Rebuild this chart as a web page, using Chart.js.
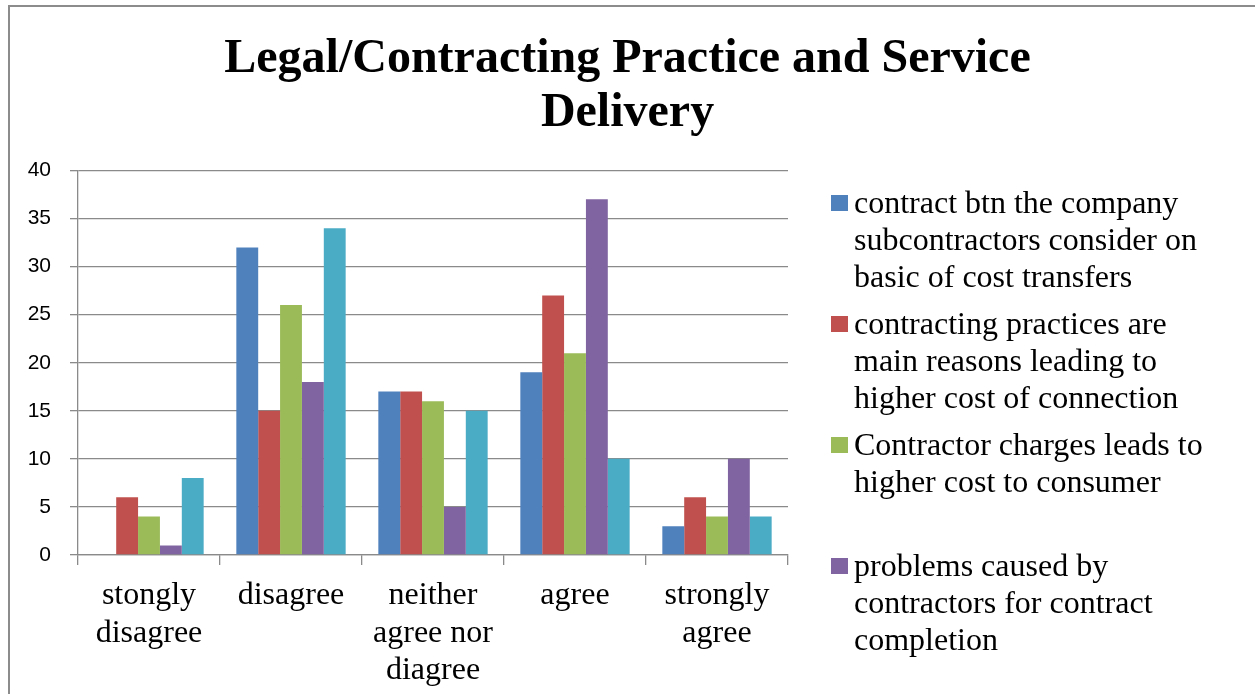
<!DOCTYPE html>
<html>
<head>
<meta charset="utf-8">
<script src="https://cdn.jsdelivr.net/npm/chart.js@4.4.1/dist/chart.umd.min.js"></script>
<style>
  html, body { margin: 0; padding: 0; background: #fff; overflow: hidden; }
  #wrap { position: relative; width: 1255px; height: 694px; }
  #frame { position: absolute; left: 8px; top: 5px; width: 1300px; height: 760px;
           border-left: 2px solid #8c8c8c; border-top: 2px solid #8c8c8c; pointer-events: none; }
</style>
</head>
<body>
<div id="wrap">
  <canvas id="chart" width="1255" height="694"></canvas>
  <div id="frame"></div>
</div>
<script>
(function () {
    "use strict";

    // categories (multi-line labels as in the original)
    var categories = [
        ["stongly", "disagree"],
        ["disagree"],
        ["neither", "agree nor", "diagree"],
        ["agree"],
        ["strongly", "agree"]
    ];

    // series values
    var contractBtn   = [0, 32, 17, 19, 3];
    var practices     = [6, 15, 17, 27, 6];
    var charges       = [4, 26, 16, 21, 4];
    var problems      = [1, 18, 5, 37, 10];
    var fifthSeries   = [8, 34, 15, 10, 4];

    // legend texts (the fifth entry is cut off in the original)
    var legendLines = [
        ["contract btn the company", "subcontractors consider on", "basic of cost transfers"],
        ["contracting practices are", "main reasons leading to", "higher cost of connection"],
        ["Contractor charges leads to", "higher cost to consumer"],
        ["problems caused by", "contractors for contract", "completion"],
        []
    ];

    var yTicks = [0, 5, 10, 15, 20, 25, 30, 35, 40];

    var colors = ["#4F81BD", "#C0504D", "#9BBB59", "#8064A2", "#4BACC6"];
    var gridColor = "#8a8a8a";
    var serif = "'Liberation Serif', 'Times New Roman', serif";
    var sans = "'Liberation Sans', Arial, sans-serif";

    var values = [contractBtn, practices, charges, problems, fifthSeries];

    // Legend drawn by hand: wrapped entries on the right, like Excel does it
    var sideLegend = {
        id: "sideLegend",
        afterDraw: function (chart) {
            var ctx = chart.ctx;
            var x0 = chart.chartArea.right + 43;
            var y0 = 205;
            var slot = 121;
            var lineH = 37;
            ctx.save();
            ctx.font = "32px " + serif;
            ctx.textBaseline = "middle";
            chart.data.datasets.forEach(function (ds, i) {
                var lines = legendLines[i];
                if (!lines.length) return;
                var y = y0 + i * slot;
                ctx.fillStyle = ds.backgroundColor;
                ctx.fillRect(x0, y - 10, 17, 16);
                ctx.fillStyle = "#000";
                lines.forEach(function (t, k) {
                    ctx.fillText(t, x0 + 23, y + k * lineH);
                });
            });
            ctx.restore();
        }
    };

    if (typeof Chart === "undefined") {
        console.error("Chart.js not loaded");
        return;
    }

    var ctx = document.getElementById("chart").getContext("2d");
    new Chart(ctx, {
        type: "bar",
        data: {
            labels: categories,
            datasets: values.map(function (v, i) {
                return {
                    label: legendLines[i].join(" ") || "series 5",
                    data: v,
                    backgroundColor: colors[i],
                    borderWidth: 0,
                    barPercentage: 1,
                    categoryPercentage: 0.77
                };
            })
        },
        options: {
            responsive: false,
            animation: false,
            layout: { padding: 0 },
            plugins: {
                legend: { display: false },
                tooltip: { enabled: false },
                title: {
                    display: true,
                    text: ["Legal/Contracting Practice and Service", "Delivery"],
                    color: "#000",
                    font: { family: serif, size: 48, weight: "bold", lineHeight: 1.13 },
                    padding: { top: 32, bottom: 30 },
                    align: "center"
                }
            },
            scales: {
                x: {
                    grid: {
                        display: true,
                        drawOnChartArea: false,
                        drawTicks: true,
                        tickLength: 10,
                        color: gridColor,
                        lineWidth: 1.3,
                        offset: true
                    },
                    border: { color: gridColor, width: 1.3 },
                    ticks: {
                        color: "#000",
                        font: { family: serif, size: 32, lineHeight: 1.17 },
                        padding: 12,
                        maxRotation: 0,
                        autoSkip: false
                    },
                    afterFit: function (scale) { scale.height = 139; }
                },
                y: {
                    min: 0,
                    max: 40,
                    afterBuildTicks: function (scale) {
                        scale.ticks = yTicks.map(function (v) { return { value: v }; });
                    },
                    grid: {
                        color: gridColor,
                        lineWidth: 1.3,
                        drawTicks: true,
                        tickLength: 8
                    },
                    border: { color: gridColor, width: 1.3 },
                    ticks: {
                        color: "#000",
                        font: { family: sans, size: 21 },
                        padding: 19
                    },
                    afterFit: function (scale) { scale.width = 78; }
                },
                // empty axis on the right that keeps room for the legend
                legendRoom: {
                    position: "right",
                    grid: { display: false },
                    border: { display: false },
                    ticks: { display: false },
                    afterFit: function (scale) { scale.width = 467; }
                }
            }
        },
        plugins: [sideLegend]
    });
})();
</script>
</body>
</html>
